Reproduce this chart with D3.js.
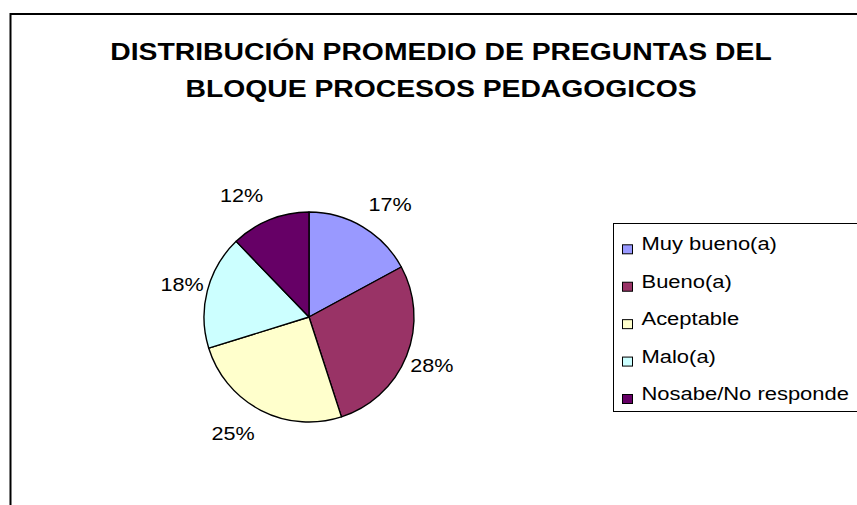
<!DOCTYPE html>
<html>
<head>
<meta charset="utf-8">
<script src="https://cdn.jsdelivr.net/npm/d3@7"></script>
<style>
  html, body { margin: 0; padding: 0; background: #fff; overflow: hidden; }
  svg { display: block; font-family: "Liberation Sans", Arial, sans-serif; }
</style>
</head>
<body>
<svg id="chart" width="857" height="505"></svg>
<script>
// ---- data ----
const titleLines = ["DISTRIBUCIÓN PROMEDIO DE PREGUNTAS DEL", "BLOQUE PROCESOS PEDAGOGICOS"];
const categories = ["Muy bueno(a)", "Bueno(a)", "Aceptable", "Malo(a)", "Nosabe/No responde"];
const values = [17.1, 27.9, 25.2, 17.6, 12.2];
const colors = ["#9999FF", "#993366", "#FFFFCC", "#CCFFFF", "#660066"];

// ---- layout ----
const svg = d3.select("#chart");
const SX = 1.2; // horizontal text stretch seen in the original

// chart area border (extends beyond the window right/bottom)
svg.append("rect")
  .attr("x", 10.5).attr("y", 14)
  .attr("width", 900).attr("height", 600)
  .attr("fill", "#fff").attr("stroke", "#000").attr("stroke-width", 2);

// title
const titleBase = [60, 97];
titleLines.forEach((t, i) => {
  svg.append("g")
    .attr("transform", `translate(441,${titleBase[i]}) scale(${SX},1)`)
    .append("text")
    .attr("text-anchor", "middle")
    .attr("font-size", 23.6).attr("font-weight", "bold").attr("fill", "#000")
    .text(t);
});

// pie
const cx = 309, cy = 317, r = 105;
const total = d3.sum(values);
const pie = d3.pie().sort(null).value(d => d.v);
const arcs = pie(categories.map((c, i) => ({ c, v: values[i], col: colors[i] })));
const arc = d3.arc().innerRadius(0).outerRadius(r);

const g = svg.append("g").attr("transform", `translate(${cx},${cy})`);
g.selectAll("path").data(arcs).join("path")
  .attr("d", arc)
  .attr("fill", d => d.data.col)
  .attr("stroke", "#000").attr("stroke-width", 1.4)
  .attr("stroke-linejoin", "round");

// outside percentage labels
arcs.forEach(d => {
  const a = (d.startAngle + d.endAngle) / 2;
  const ux = Math.sin(a), uy = -Math.cos(a);
  const lx = ux * 130 + Math.sign(ux) * 30 * (1 - Math.abs(ux));
  const ly = uy * 131;
  g.append("g")
    .attr("transform", `translate(${lx},${ly + 6.5}) scale(${SX},1)`)
    .append("text")
    .attr("text-anchor", "middle")
    .attr("font-size", 18).attr("fill", "#000")
    .text(Math.round(d.data.v / total * 100) + "%");
});

// legend
const lg = svg.append("g");
lg.append("rect")
  .attr("x", 613.5).attr("y", 223.5)
  .attr("width", 300).attr("height", 188)
  .attr("fill", "#fff").attr("stroke", "#000").attr("stroke-width", 1);
const yItem = d3.scalePoint().domain(categories).range([250.3, 400]);
categories.forEach((c, i) => {
  const by = yItem(c);
  lg.append("rect")
    .attr("x", 622.5).attr("y", by - 5.5)
    .attr("width", 10).attr("height", 9)
    .attr("fill", colors[i]).attr("stroke", "#000").attr("stroke-width", 1);
  lg.append("g")
    .attr("transform", `translate(641.5,${by}) scale(${SX},1)`)
    .append("text")
    .attr("font-size", 18.3).attr("fill", "#000")
    .text(c);
});
</script>
</body>
</html>
